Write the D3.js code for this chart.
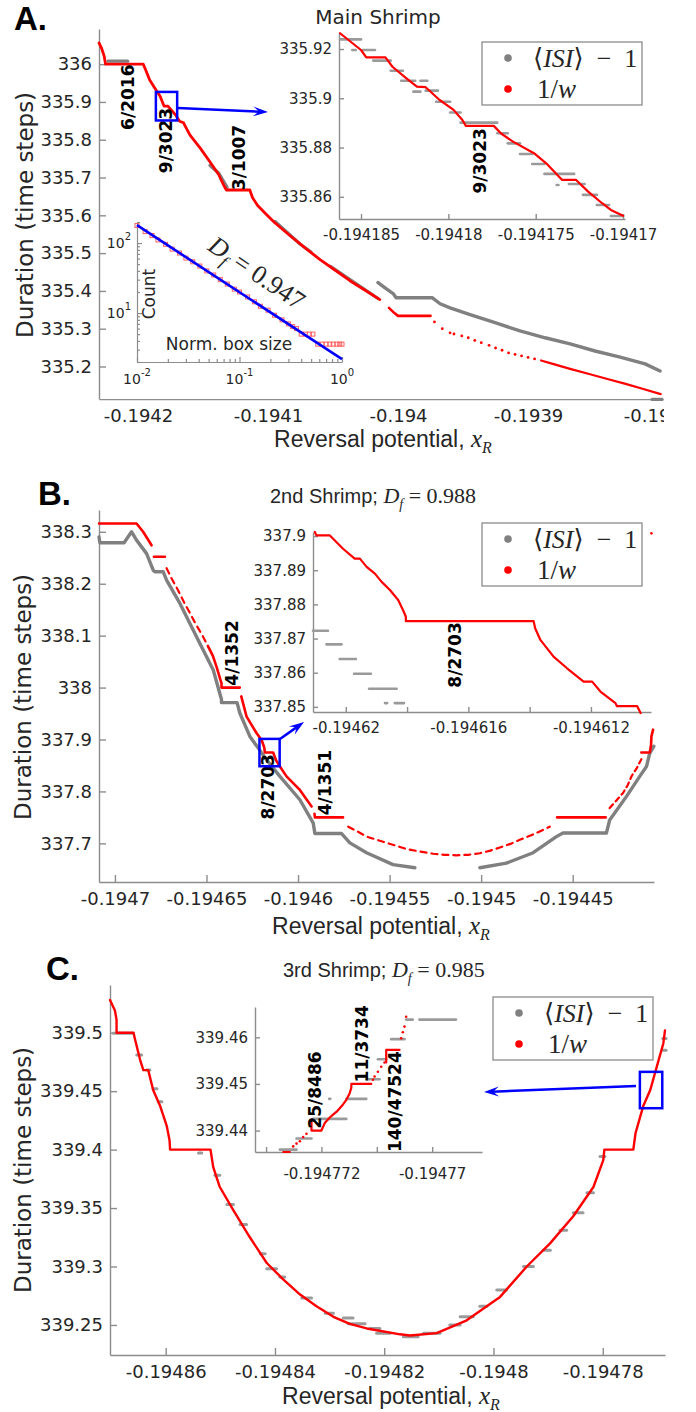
<!DOCTYPE html>
<html>
<head>
<meta charset="utf-8">
<script src="https://cdn.jsdelivr.net/npm/d3@7/dist/d3.min.js"></script>
<style>
  body { margin: 0; background: #fff; }
  svg { display: block; }
</style>
</head>
<body>
<svg id="fig" width="696" height="1412"></svg>
<script>
// ---------------- Panel A : main shrimp ----------------
const aXTicks = [-0.1942, -0.19415, -0.1941, -0.19405, -0.194, -0.19395, -0.1939, -0.19385, -0.1938];
const aXTickLabels = ["-0.1942", "", "-0.1941", "", "-0.194", "", "-0.1939", "", "-0.1938"];
const aYTicks = [335.2, 335.3, 335.4, 335.5, 335.6, 335.7, 335.8, 335.9, 336];
const aYTickLabels = ["335.2", "335.3", "335.4", "335.5", "335.6", "335.7", "335.8", "335.9", "336"];

// 1/w, continuous part
const aRed1 = [[-0.194230,336.056],[-0.194228,336.042],[-0.194226,336.021],[-0.194225,336.000],[-0.194196,336.000],
  [-0.194194,335.984],[-0.194191,335.958],[-0.194187,335.936],[-0.194183,335.915],[-0.194180,335.889],[-0.194177,335.889],
  [-0.194171,335.865],[-0.194168,335.849],[-0.194165,335.845],[-0.194164,335.838],[-0.194160,335.812],[-0.194152,335.777],
  [-0.194145,335.743],[-0.194138,335.708],[-0.194134,335.679],[-0.194132,335.667],[-0.194114,335.667],[-0.194112,335.647],
  [-0.194108,335.626],[-0.194102,335.605],[-0.194095,335.581],[-0.194083,335.546],[-0.194072,335.515],[-0.194060,335.483],
  [-0.194048,335.454],[-0.194037,335.427],[-0.194025,335.401],[-0.194014,335.377]];
const aRed2 = [[-0.194007,335.355],[-0.194003,335.342],[-0.194000,335.334],[-0.193975,335.334]];
const aRedDots = [[-0.193972,335.318],[-0.193966,335.300],[-0.193960,335.289],[-0.193957,335.286],[-0.193951,335.281],
  [-0.193946,335.276],[-0.193941,335.269],[-0.193936,335.263],[-0.193930,335.256],[-0.193925,335.249],[-0.193920,335.243],
  [-0.193915,335.236],[-0.193910,335.232],[-0.193905,335.228],[-0.193900,335.224],[-0.193895,335.220]];
const aRed3 = [[-0.193890,335.216],[-0.193881,335.207],[-0.193867,335.193],[-0.193853,335.180],[-0.193839,335.167],
  [-0.193825,335.154],[-0.193812,335.141],[-0.193798,335.127]];
// <ISI>-1
const aGray1 = [[-0.194223,336.008],[-0.194208,336.008]];
const aGray2 = [[-0.1941446,335.732],[-0.1941380,335.712],[-0.1941315,335.674]];
const aGray3 = [[-0.1940946,335.584],[-0.1940754,335.524],[-0.1940670,335.503]];
const aGray3b = [[-0.1940520,335.465],[-0.1940369,335.430],[-0.1940154,335.380]];
const aGray4 = [[-0.1940154,335.422],[-0.1940100,335.408],[-0.1940038,335.393],[-0.1940015,335.382],[-0.1939738,335.382],
  [-0.1939677,335.366],[-0.1939600,335.355],[-0.1939446,335.337],[-0.1939254,335.316],[-0.1939062,335.294],[-0.1938869,335.276],
  [-0.1938677,335.260],[-0.1938485,335.241],[-0.1938292,335.225],[-0.1938100,335.207],[-0.1937985,335.188]];
const aGrayTail = [[-0.1938046,335.113],[-0.193797,335.113]];
const aFracs = [["6/2016",-0.1942077,335.9125],["9/3023",-0.1941785,335.798],["3/1007",-0.1941223,335.753]];

// zoom inset of A
const aZoomXTicks = [-0.194185, -0.19418, -0.194175, -0.19417];
const aZoomXTickLabels = ["-0.194185", "-0.19418", "-0.194175", "-0.19417"];
const aZoomYTicks = [335.86, 335.88, 335.9, 335.92];
const aZoomYTickLabels = ["335.86", "335.88", "335.9", "335.92"];
const aZoomRed = [[-0.1941862,335.9264],[-0.1941850,335.9196],[-0.1941847,335.9166],[-0.1941836,335.9166],[-0.1941832,335.9128],
  [-0.1941824,335.9081],[-0.1941818,335.9047],[-0.1941813,335.9045],[-0.1941805,335.8993],[-0.1941797,335.8953],[-0.1941792,335.8912],
  [-0.1941790,335.8888],[-0.1941774,335.8888],[-0.1941770,335.8858],[-0.1941763,335.8824],[-0.1941751,335.8777],[-0.1941744,335.8736],
  [-0.1941735,335.8669],[-0.1941727,335.8669],[-0.1941720,335.8621],[-0.1941712,335.8574],[-0.1941707,335.8547],[-0.1941700,335.8523]];
const aZoomGray = [[-0.1941862,-0.1941850,335.9239],[-0.1941855,-0.1941853,335.9196],[-0.1941849,-0.1941842,335.9196],
  [-0.1941843,-0.1941833,335.9153],[-0.1941833,-0.1941826,335.9112],[-0.1941827,-0.1941819,335.9071],[-0.1941816,-0.1941812,335.9071],
  [-0.1941820,-0.1941816,335.9027],[-0.1941813,-0.1941806,335.9031],[-0.1941807,-0.1941799,335.8986],[-0.1941799,-0.1941793,335.8942],
  [-0.1941793,-0.1941772,335.8901],[-0.1941772,-0.1941766,335.8858],[-0.1941766,-0.1941759,335.8817],[-0.1941759,-0.1941752,335.8774],
  [-0.1941752,-0.1941745,335.8733],[-0.1941745,-0.1941728,335.8693],[-0.1941738,-0.1941737,335.8648],[-0.1941731,-0.1941722,335.8652],
  [-0.1941723,-0.1941715,335.8608],[-0.1941715,-0.1941708,335.8567],[-0.1941707,-0.1941700,335.8522]];
const aZoomFracs = [["9/3023",-0.1941782,335.8746]];

// box-counting inset of A
const aBoxSizes = [0.010,0.012,0.014,0.016,0.019,0.022,0.026,0.030,0.035,0.041,0.048,0.056,0.065,0.076,0.089,
  0.10,0.12,0.14,0.16,0.19,0.22,0.26,0.30,0.33,0.36,0.40,0.44,0.48,0.52,0.58,0.64,0.70,0.76,0.82,0.89,0.95,1.0];
const aBoxCounts = [178,146,128,111,96,82,72,61,54,47,40,35,30,26,22,20,17,14.5,12.5,11,9.3,8,7,6.4,6,5,5,5,5,3.6,3.6,3.6,3.6,3.6,3.6,3.6,3.6];
const aFitLine = [[0.01,180],[1,2.2]];
const aBoxXTicks = [0.01, 0.1, 1];
const aBoxXTickLabels = [["10","-2"],["10","-1"],["10","0"]];
const aBoxYTicks = [10, 100];
const aBoxYTickLabels = [["10","1"],["10","2"]];

// ---------------- Panel B : 2nd shrimp ----------------
const bXTicks = [-0.1947, -0.19465, -0.1946, -0.19455, -0.1945, -0.19445];
const bXTickLabels = ["-0.1947", "-0.19465", "-0.1946", "-0.19455", "-0.1945", "-0.19445"];
const bYTicks = [337.7, 337.8, 337.9, 338, 338.1, 338.2, 338.3];
const bYTickLabels = ["337.7", "337.8", "337.9", "338", "338.1", "338.2", "338.3"];
const bRed1 = [[-0.1947087,338.316],[-0.1946882,338.316],[-0.1946846,338.300],[-0.1946800,338.274]];
const bRed2 = [[-0.1946787,338.252],[-0.1946727,338.252]];
const bRedDash1 = [[-0.1946718,338.230],[-0.1946689,338.209],[-0.1946656,338.188],[-0.1946618,338.161],[-0.1946591,338.144],
  [-0.1946558,338.122],[-0.1946520,338.099],[-0.1946492,338.080]];
const bRed3 = [[-0.1946492,338.080],[-0.1946465,338.061],[-0.1946445,338.040],[-0.1946418,338.008],[-0.1946418,338.000],[-0.1946318,338.000]];
const bRed4 = [[-0.1946310,337.983],[-0.1946281,337.944],[-0.1946226,337.912],[-0.1946199,337.899],[-0.1946185,337.885],[-0.1946181,337.875],
  [-0.1946136,337.875],[-0.1946120,337.860],[-0.1946099,337.848],[-0.1946063,337.829],[-0.1945990,337.803],[-0.1945926,337.771]];
const bRed5 = [[-0.1945910,337.757],[-0.1945908,337.750],[-0.1945754,337.750]];
const bRedDash2 = [[-0.1945726,337.732],[-0.1945680,337.724],[-0.1945626,337.713],[-0.1945570,337.707],[-0.1945517,337.701],
  [-0.1945460,337.695],[-0.1945408,337.689],[-0.1945330,337.684],[-0.1945262,337.680],[-0.1945200,337.678],[-0.1945135,337.677],
  [-0.1945070,337.678],[-0.1945007,337.681],[-0.1944950,337.686],[-0.1944898,337.692],[-0.1944840,337.699],[-0.1944789,337.707],
  [-0.1944730,337.715],[-0.1944680,337.723],[-0.1944625,337.732]];
const bRed6 = [[-0.1944585,337.750],[-0.1944320,337.750]];
const bRedDash3 = [[-0.1944298,337.768],[-0.1944260,337.783],[-0.1944225,337.797],[-0.1944200,337.812],[-0.1944179,337.829],
  [-0.1944150,337.845],[-0.1944125,337.862]];
const bRed7 = [[-0.1944125,337.875],[-0.1944079,337.875],[-0.1944072,337.890],[-0.1944070,337.906],[-0.1944061,337.919]];
const bRedStray = [[-0.194407,338.297]];
const bGray1 = [[-0.1947087,338.290],[-0.1947082,338.279],[-0.1946950,338.279],[-0.1946909,338.300],[-0.1946882,338.284],
  [-0.1946827,338.258],[-0.1946791,338.226],[-0.1946782,338.223],[-0.1946736,338.223],[-0.1946718,338.207],[-0.1946645,338.162],
  [-0.1946536,338.085],[-0.1946463,338.034],[-0.1946418,337.977],[-0.1946418,337.971],[-0.1946333,337.971],[-0.1946318,337.951],
  [-0.1946263,337.906],[-0.1946172,337.861],[-0.1946099,337.829],[-0.1945990,337.784],[-0.1945917,337.739],[-0.1945908,337.719],
  [-0.1945762,337.719],[-0.1945717,337.701],[-0.1945626,337.682],[-0.1945481,337.659],[-0.1945362,337.653]];
const bGray2 = [[-0.1945007,337.653],[-0.1944862,337.662],[-0.1944716,337.682],[-0.1944589,337.713],[-0.1944553,337.720],
  [-0.1944316,337.720],[-0.1944298,337.745],[-0.1944207,337.790],[-0.1944134,337.829],[-0.1944097,337.848],[-0.1944079,337.874],
  [-0.1944057,337.887]];
const bFracs = [["4/1352",-0.1946361,338.0667],["8/2703",-0.1946165,337.809],["4/1351",-0.1945854,337.817]];

const bZoomXTicks = [-0.19462, -0.194618, -0.194616, -0.194614, -0.194612];
const bZoomXTickLabels = ["-0.19462", "", "-0.194616", "", "-0.194612"];
const bZoomYTicks = [337.85, 337.86, 337.87, 337.88, 337.89, 337.9];
const bZoomYTickLabels = ["337.85", "337.86", "337.87", "337.88", "337.89", "337.9"];
const bZoomRed = [[-0.19462101,337.9012],[-0.19462096,337.9002],[-0.19462052,337.9002],[-0.19462009,337.8963],[-0.19461971,337.8934],
  [-0.19461954,337.8934],[-0.19461932,337.8910],[-0.19461905,337.8890],[-0.19461883,337.8866],[-0.19461856,337.8842],
  [-0.19461829,337.8813],[-0.19461813,337.8783],[-0.19461804,337.8764],[-0.19461804,337.8751],[-0.19461387,337.8751],
  [-0.19461382,337.8730],[-0.19461365,337.8696],[-0.19461322,337.8647],[-0.19461278,337.8613],[-0.19461224,337.8574],
  [-0.19461196,337.8574],[-0.19461169,337.8545],[-0.19461120,337.8511],[-0.19461115,337.8502],[-0.19461049,337.8502],
  [-0.19461038,337.8482]];
const bZoomGray = [[-0.19462107,-0.19462058,337.8723],[-0.19462063,-0.19462014,337.8683],[-0.1946202,-0.19461967,337.8640],
  [-0.19461973,-0.19461918,337.8597],[-0.19461924,-0.19461834,337.8553],[-0.19461872,-0.19461865,337.8511],[-0.1946184,-0.1946181,337.8511]];
const bZoomFracs = [["8/2703",-0.19461643,337.8652]];

// ---------------- Panel C : 3rd shrimp ----------------
const cXTicks = [-0.19486, -0.19484, -0.19482, -0.1948, -0.19478];
const cXTickLabels = ["-0.19486", "-0.19484", "-0.19482", "-0.1948", "-0.19478"];
const cYTicks = [339.25, 339.3, 339.35, 339.4, 339.45, 339.5];
const cYTickLabels = ["339.25", "339.3", "339.35", "339.4", "339.45", "339.5"];
const cRed = [[-0.1948702,339.528],[-0.1948693,339.519],[-0.1948690,339.511],[-0.1948690,339.500],[-0.1948659,339.500],
  [-0.1948656,339.494],[-0.1948647,339.477],[-0.1948641,339.468],[-0.1948632,339.468],[-0.1948623,339.451],[-0.1948610,339.437],
  [-0.1948598,339.420],[-0.1948593,339.408],[-0.1948592,339.400],[-0.1948518,339.400],[-0.1948513,339.385],[-0.1948501,339.368],
  [-0.1948476,339.348],[-0.1948446,339.325],[-0.1948415,339.303],[-0.1948385,339.289],[-0.1948354,339.276],[-0.1948324,339.266],
  [-0.1948293,339.257],[-0.1948263,339.251],[-0.1948232,339.247],[-0.1948171,339.242],[-0.1948153,339.241],[-0.1948104,339.243],
  [-0.1948049,339.254],[-0.1947988,339.274],[-0.1947939,339.300],[-0.1947896,339.320],[-0.1947854,339.343],[-0.1947817,339.368],
  [-0.1947799,339.391],[-0.1947797,339.400],[-0.1947744,339.400],[-0.1947740,339.414],[-0.1947726,339.437],[-0.1947713,339.451],
  [-0.1947701,339.471],[-0.1947689,339.491],[-0.1947686,339.502]];
const cGray = [[-0.1948696,-0.1948659,339.4995],[-0.1948653,-0.1948644,339.481],[-0.1948635,-0.1948629,339.468],
  [-0.1948623,-0.1948616,339.452],[-0.1948614,-0.1948607,339.441],[-0.1948540,-0.1948534,339.397],[-0.1948510,-0.1948501,339.378],
  [-0.1948488,-0.1948476,339.353],[-0.1948464,-0.1948452,339.336],[-0.1948427,-0.1948418,339.311],[-0.1948415,-0.1948397,339.298],
  [-0.1948391,-0.1948382,339.291],[-0.1948351,-0.1948333,339.273],[-0.1948308,-0.1948293,339.260],[-0.1948275,-0.1948257,339.256],
  [-0.1948266,-0.1948235,339.251],[-0.1948226,-0.1948208,339.247],[-0.1948214,-0.1948189,339.243],[-0.1948165,-0.1948138,339.240],
  [-0.1948128,-0.1948098,339.243],[-0.1948080,-0.1948061,339.250],[-0.1948061,-0.1948037,339.257],[-0.1948025,-0.1948012,339.266],
  [-0.1947994,-0.1947976,339.280],[-0.1947945,-0.1947927,339.300],[-0.1947909,-0.1947896,339.314],[-0.1947878,-0.1947866,339.331],
  [-0.1947854,-0.1947836,339.346],[-0.1947829,-0.1947817,339.363],[-0.1947805,-0.1947796,339.394],[-0.1947690,-0.1947684,339.495],
  [-0.1947690,-0.1947684,339.485]];

const cZoomXTicks = [-0.194773, -0.194772, -0.194771, -0.19477];
const cZoomXTickLabels = ["", "-0.194772", "", "-0.19477"];
const cZoomYTicks = [339.44, 339.45, 339.46];
const cZoomYTickLabels = ["339.44", "339.45", "339.46"];
const cZoomRed1 = [[-0.19477269,339.4354],[-0.19477257,339.4354]];
const cZoomRedDots1 = [[-0.19477251,339.4366],[-0.19477245,339.4372],[-0.19477239,339.4377],[-0.19477233,339.4386],[-0.19477227,339.4393]];
const cZoomRed2 = [[-0.19477218,339.4423],[-0.19477218,339.4400],[-0.19477200,339.4400],[-0.19477194,339.4416],[-0.19477185,339.4428],
  [-0.19477179,339.4434],[-0.19477173,339.4440],[-0.19477167,339.4448],[-0.19477161,339.4456],[-0.19477155,339.4466],
  [-0.19477149,339.4480],[-0.19477146,339.4492],[-0.19477146,339.4500],[-0.19477110,339.4500]];
const cZoomRedDots2 = [[-0.19477107,339.4509],[-0.19477104,339.4516],[-0.19477098,339.4526],[-0.19477092,339.4537],[-0.19477086,339.4546]];
const cZoomRed3 = [[-0.19477083,339.4546],[-0.19477083,339.4573],[-0.19477059,339.4573]];
const cZoomRedDots3 = [[-0.19477056,339.4598],[-0.19477053,339.4611],[-0.19477050,339.4623],[-0.19477047,339.4644]];
const cZoomGray = [[-0.19477275,-0.19477245,339.4359],[-0.19477245,-0.19477218,339.4383],[-0.19477215,-0.19477155,339.4425],
  [-0.19477186,-0.19477184,339.4468],[-0.19477155,-0.19477119,339.4468],[-0.19477119,-0.19477095,339.4510],
  [-0.19477098,-0.19477083,339.4553],[-0.19477074,-0.19477050,339.4596],[-0.19477047,-0.19477035,339.4638],
  [-0.19477023,-0.19476957,339.4638]];
const cZoomFracs = [["25/8486",-0.19477212,339.4487],["11/3734",-0.19477127,339.4586],["140/47524",-0.19477068,339.4462]];

// ---------------- drawing ----------------
const svg = d3.select("#fig");
const SANS = "DejaVu Sans, sans-serif";
const ARIAL = "Liberation Sans, Arial, sans-serif";
const SERIF = "Liberation Serif, DejaVu Serif, serif";
const RED = "#ff0000", GRAY = "#808080", BLUE = "#0000ff", AXIS = "#8c8c8c", INK = "#262626";

svg.append("defs").append("clipPath").attr("id", "clipA")
  .append("rect").attr("x", 0).attr("y", 0).attr("width", 664).attr("height", 470);

function panel(box, xDom, yDom) {
  return {
    box,
    x: d3.scaleLinear().domain(xDom).range([box.l, box.r]),
    y: d3.scaleLinear().domain(yDom).range([box.b, box.t])
  };
}

function axes(p, xt, xl, yt, yl, o) {
  const gx = svg.append("g").attr("transform", `translate(0,${p.box.b})`)
    .call(d3.axisBottom(p.x).tickValues(xt).tickFormat((d, i) => xl[i])
      .tickSizeInner(-o.tick).tickSizeOuter(0).tickPadding(o.padX));
  const gy = svg.append("g").attr("transform", `translate(${p.box.l},0)`)
    .call(d3.axisLeft(p.y).tickValues(yt).tickFormat((d, i) => yl[i])
      .tickSizeInner(-o.tick).tickSizeOuter(0).tickPadding(o.padY));
  [gx, gy].forEach(g => {
    g.attr("font-family", SANS).attr("font-size", o.fs);
    g.selectAll("path,line").attr("stroke", AXIS).attr("stroke-width", 1.4);
    g.selectAll("text").attr("fill", INK);
  });
  return gx;
}

function line(p, pts, color, w, dash) {
  svg.append("path").datum(pts)
    .attr("d", d3.line().x(d => p.x(d[0])).y(d => p.y(d[1])))
    .attr("fill", "none").attr("stroke", color).attr("stroke-width", w)
    .attr("stroke-linejoin", "round").attr("stroke-linecap", "round")
    .attr("stroke-dasharray", dash || null);
}

function segs(p, rows, color, w) {
  svg.append("g").selectAll("line").data(rows).join("line")
    .attr("x1", d => p.x(d[0])).attr("x2", d => p.x(d[1]))
    .attr("y1", d => p.y(d[2])).attr("y2", d => p.y(d[2]))
    .attr("stroke", color).attr("stroke-width", w).attr("stroke-linecap", "round");
}

function dots(p, pts, color, r) {
  svg.append("g").selectAll("circle").data(pts).join("circle")
    .attr("cx", d => p.x(d[0])).attr("cy", d => p.y(d[1])).attr("r", r).attr("fill", color);
}

function fracs(p, rows, fs) {
  svg.append("g").selectAll("text").data(rows).join("text")
    .attr("transform", d => `translate(${p.x(d[1])},${p.y(d[2])}) rotate(-90)`)
    .attr("text-anchor", "middle").attr("dy", "0.36em")
    .attr("font-family", SANS).attr("font-weight", "bold").attr("font-size", fs).attr("fill", "#000")
    .text(d => d[0]);
}

function zoomBox(p, q) {
  const xd = q.x.domain(), yd = q.y.domain();
  svg.append("rect")
    .attr("x", p.x(xd[0])).attr("y", p.y(yd[1]))
    .attr("width", p.x(xd[1]) - p.x(xd[0])).attr("height", p.y(yd[0]) - p.y(yd[1]))
    .attr("fill", "none").attr("stroke", BLUE).attr("stroke-width", 2.5);
}

function arrow(x1, y1, x2, y2) {
  const a = Math.atan2(y2 - y1, x2 - x1), L = 15, W = 5;
  const c = Math.cos(a), s = Math.sin(a);
  svg.append("line").attr("x1", x1).attr("y1", y1).attr("x2", x2 - c * 8).attr("y2", y2 - s * 8)
    .attr("stroke", BLUE).attr("stroke-width", 2.5);
  const pts = [[x2, y2], [x2 - L * c + W * s, y2 - L * s - W * c], [x2 - 0.6 * L * c, y2 - 0.6 * L * s],
    [x2 - L * c - W * s, y2 - L * s + W * c]];
  svg.append("polygon").attr("points", pts.map(d => d.join(",")).join(" ")).attr("fill", BLUE);
}

// parts: [text, {i: italic, sub/sup, fs, f}]
function rich(x, y, parts, base, anchor) {
  const t = svg.append("text").attr("x", x).attr("y", y).attr("fill", INK)
    .attr("font-family", base.f).attr("font-size", base.fs).attr("text-anchor", anchor || "start");
  let shift = 0;
  parts.forEach(([txt, o]) => {
    o = o || {};
    const dy = (o.sub ? 6 : o.sup ? -8 : 0) - shift;
    shift += dy;
    const s = t.append("tspan").text(txt).attr("dy", dy);
    if (o.f) s.attr("font-family", o.f);
    if (o.fs) s.attr("font-size", o.fs);
    if (o.i) s.attr("font-style", "italic");
  });
  return t;
}

function legend(x, y) {
  svg.append("rect").attr("x", x).attr("y", y).attr("width", 160).attr("height", 63)
    .attr("fill", "#fff").attr("stroke", AXIS).attr("stroke-width", 1.3);
  svg.append("circle").attr("cx", x + 26).attr("cy", y + 16).attr("r", 3.8).attr("fill", GRAY);
  svg.append("circle").attr("cx", x + 26).attr("cy", y + 47).attr("r", 3.8).attr("fill", RED);
  rich(x + 51, y + 25, [["⟨", {f: "DejaVu Serif"}], ["ISI", {i: true}], ["⟩", {f: "DejaVu Serif"}], ["\u2002−\u20021"]],
    {f: SERIF, fs: 26});
  rich(x + 55, y + 56, [["1/"], ["w", {i: true}]], {f: SERIF, fs: 27});
}

function yLabel(x, y) {
  svg.append("text").attr("transform", `translate(${x},${y}) rotate(-90)`)
    .attr("text-anchor", "middle").attr("font-family", SANS).attr("font-size", 23).attr("fill", INK)
    .text("Duration (time steps)");
}

function xLabel(x, y) {
  rich(x, y, [["Reversal potential, "], ["x", {f: SERIF, i: true, fs: 25}], ["R", {f: SERIF, i: true, sub: true, fs: 16}]],
    {f: ARIAL, fs: 23}, "middle");
}

function panelLetter(x, y, s) {
  svg.append("text").attr("x", x).attr("y", y).attr("font-family", ARIAL).attr("font-weight", "bold")
    .attr("font-size", 33).attr("fill", "#000").text(s);
}

// ---- Panel A ----
const pA = panel({l: 99, r: 662, t: 29, b: 399}, [-0.19423, -0.193797], [335.114, 336.093]);
const gxA = axes(pA, aXTicks, aXTickLabels, aYTicks, aYTickLabels, {tick: 7, padX: 10, padY: 7, fs: 18});
gxA.attr("clip-path", "url(#clipA)");
line(pA, aGray1, GRAY, 3.4);
line(pA, aGray2, GRAY, 3.4);
line(pA, aGray3, GRAY, 3.2);
line(pA, aGray3b, GRAY, 3.2);
line(pA, aGray4, GRAY, 3.4);
line(pA, aGrayTail, GRAY, 3.4);
line(pA, aRed1, RED, 2.8);
line(pA, aRed2, RED, 2.6);
dots(pA, aRedDots, RED, 1.4);
line(pA, aRed3, RED, 2.2);
fracs(pA, aFracs, 17);

const pAz = panel({l: 339, r: 625, t: 33, b: 219}, [-0.19418626, -0.19416989], [335.851, 335.9265]);
axes(pAz, aZoomXTicks, aZoomXTickLabels, aZoomYTicks, aZoomYTickLabels, {tick: 5, padX: 10, padY: 7, fs: 15});
segs(pAz, aZoomGray, "#9a9a9a", 2.6);
line(pAz, aZoomRed, RED, 2.2);
fracs(pAz, aZoomFracs, 17);
zoomBox(pA, pAz);
arrow(178, 108, 268, 112);

// box-counting inset
const lb = {l: 137, r: 342, t: 222, b: 362};
const lx = d3.scaleLog().domain([0.01, 1]).range([lb.l, lb.r]);
const ly = d3.scaleLog().domain([2, 200]).range([lb.b, lb.t]);
const lgx = svg.append("g").attr("transform", `translate(0,${lb.b})`)
  .call(d3.axisBottom(lx).tickValues(lx.ticks()).tickFormat("").tickSizeInner(-3).tickSizeOuter(0));
const lgy = svg.append("g").attr("transform", `translate(${lb.l},0)`)
  .call(d3.axisLeft(ly).tickValues(ly.ticks()).tickFormat("").tickSizeInner(-3).tickSizeOuter(0));
[lgx, lgy].forEach(g => g.selectAll("path,line").attr("stroke", AXIS).attr("stroke-width", 1.2));
lgx.selectAll(".tick").filter(d => aBoxXTicks.some(v => Math.abs(v - d) < 1e-9)).select("line").attr("y2", -5);
lgy.selectAll(".tick").filter(d => aBoxYTicks.some(v => Math.abs(v - d) < 1e-9)).select("line").attr("x2", 5);
aBoxXTicks.forEach((v, i) => rich(lx(v), lb.b + 22, [[aBoxXTickLabels[i][0]], [aBoxXTickLabels[i][1], {sup: true, fs: 10}]],
  {f: SANS, fs: 14}, "middle"));
aBoxYTicks.forEach((v, i) => rich(lb.l - 6, ly(v) + 5, [[aBoxYTickLabels[i][0]], [aBoxYTickLabels[i][1], {sup: true, fs: 10}]],
  {f: SANS, fs: 14}, "end"));
svg.append("g").selectAll("rect").data(aBoxSizes.map((s, i) => [s, aBoxCounts[i]])).join("rect")
  .attr("x", d => lx(d[0]) - 2).attr("y", d => ly(d[1]) - 2).attr("width", 4).attr("height", 4)
  .attr("fill", "none").attr("stroke", "#ff6060").attr("stroke-width", 1);
svg.append("path").datum(aFitLine).attr("d", d3.line().x(d => lx(d[0])).y(d => ly(d[1])))
  .attr("stroke", BLUE).attr("stroke-width", 2.6).attr("fill", "none");
svg.append("text").attr("transform", "translate(155,294) rotate(-90)").attr("text-anchor", "middle")
  .attr("font-family", SANS).attr("font-size", 17).attr("fill", INK).text("Count");
svg.append("text").attr("x", 229).attr("y", 350).attr("text-anchor", "middle")
  .attr("font-family", SANS).attr("font-size", 17).attr("fill", INK).text("Norm. box size");
rich(0, 0, [["D", {i: true}], ["f", {i: true, sub: true, fs: 17}], [" = 0.947"]], {f: SERIF, fs: 26}, "middle")
  .attr("transform", "translate(252,280) rotate(34)");

legend(482, 42);
svg.append("text").attr("x", 378).attr("y", 24).attr("text-anchor", "middle")
  .attr("font-family", SANS).attr("font-size", 20).attr("fill", INK).text("Main Shrimp");
panelLetter(14, 30, "A.");
yLabel(33, 215);
xLabel(383, 447);

// ---- Panel B ----
const pB = panel({l: 99, r: 654, t: 510, b: 882}, [-0.1947087, -0.1944056], [337.6256, 338.342]);
axes(pB, bXTicks, bXTickLabels, bYTicks, bYTickLabels, {tick: 7, padX: 10, padY: 7, fs: 18});
line(pB, bGray1, GRAY, 3.4);
line(pB, bGray2, GRAY, 3.4);
line(pB, bRed1, RED, 2.6);
line(pB, bRed2, RED, 2.6);
line(pB, bRedDash1, RED, 2.2, "6,5");
line(pB, bRed3, RED, 2.6);
line(pB, bRed4, RED, 2.6);
line(pB, bRed5, RED, 2.6);
line(pB, bRedDash2, RED, 2.2, "6,5");
line(pB, bRed6, RED, 2.6);
line(pB, bRedDash3, RED, 2.2, "5,4");
line(pB, bRed7, RED, 2.6);
dots(pB, bRedStray, RED, 1.3);
fracs(pB, bFracs, 17);

const pBz = panel({l: 313, r: 651, t: 532, b: 712}, [-0.19462107, -0.19461004], [337.8485, 337.9012]);
axes(pBz, bZoomXTicks, bZoomXTickLabels, bZoomYTicks, bZoomYTickLabels, {tick: 5, padX: 10, padY: 7, fs: 15});
segs(pBz, bZoomGray, "#9a9a9a", 2.6);
line(pBz, bZoomRed, RED, 2.2);
fracs(pBz, bZoomFracs, 17);
zoomBox(pB, pBz);
arrow(280, 739, 304, 722);

legend(482, 523);
rich(270, 503, [["2nd Shrimp; "], ["D", {f: SERIF, i: true, fs: 22}], ["f", {f: SERIF, i: true, sub: true, fs: 14}],
  [" = 0.988", {f: SERIF, fs: 22}]], {f: ARIAL, fs: 20});
panelLetter(38, 505, "B.");
yLabel(31, 697);
xLabel(381, 934);

// ---- Panel C ----
const pC = panel({l: 110, r: 665, t: 985, b: 1355}, [-0.1948702, -0.1947686], [339.2243, 339.5408]);
axes(pC, cXTicks, cXTickLabels, cYTicks, cYTickLabels, {tick: 7, padX: 10, padY: 7, fs: 18});
segs(pC, cGray, "#9a9a9a", 3);
line(pC, cRed, RED, 2.4);

const pCz = panel({l: 255, r: 482, t: 1007, b: 1152}, [-0.1947732, -0.1947691], [339.4354, 339.4665]);
axes(pCz, cZoomXTicks, cZoomXTickLabels, cZoomYTicks, cZoomYTickLabels, {tick: 5, padX: 16, padY: 7, fs: 15});
segs(pCz, cZoomGray, "#9a9a9a", 2.6);
line(pCz, cZoomRed1, RED, 2.2);
dots(pCz, cZoomRedDots1, RED, 1.3);
line(pCz, cZoomRed2, RED, 2.2);
dots(pCz, cZoomRedDots2, RED, 1.3);
line(pCz, cZoomRed3, RED, 2.2);
dots(pCz, cZoomRedDots3, RED, 1.3);
fracs(pCz, cZoomFracs, 17);
zoomBox(pC, pCz);
arrow(636, 1086, 484, 1092);

legend(493, 997);
rich(283, 977, [["3rd Shrimp; "], ["D", {f: SERIF, i: true, fs: 22}], ["f", {f: SERIF, i: true, sub: true, fs: 14}],
  [" = 0.985", {f: SERIF, fs: 22}]], {f: ARIAL, fs: 20});
panelLetter(46, 980, "C.");
yLabel(31, 1170);
xLabel(391, 1404);
</script>
</body>
</html>
